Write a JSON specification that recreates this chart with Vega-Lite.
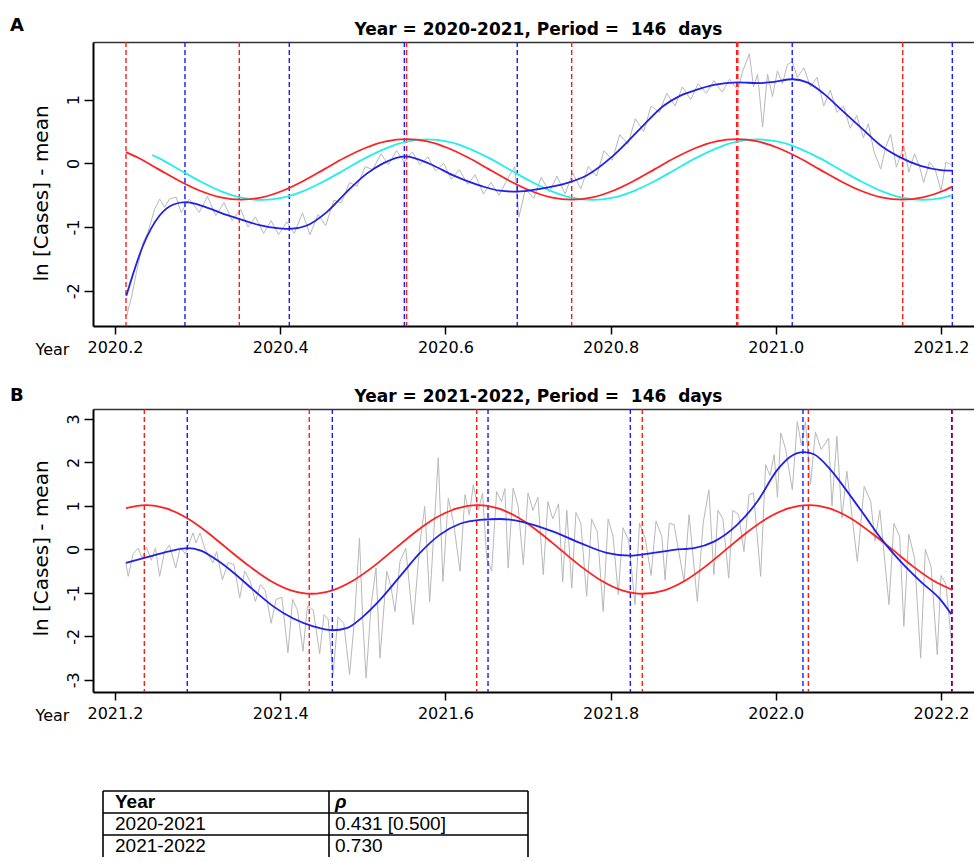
{
  "$schema": "https://vega.github.io/schema/vega-lite/v6.json",
  "background": "white",
  "padding": {"left": 10, "top": 17, "right": 0, "bottom": 0},
  "config": {"font": "DejaVu Sans", "view": {"stroke": null}},
  "spacing": 30,
  "datasets": {
    "grayA": [{"t":2020.214,"v":-2.40},{"t":2020.220,"v":-2.10},{"t":2020.226,"v":-1.71},{"t":2020.234,"v":-1.24},{"t":2020.240,"v":-1.08},{"t":2020.248,"v":-0.72},{"t":2020.254,"v":-0.56},{"t":2020.260,"v":-0.69},{"t":2020.266,"v":-0.56},{"t":2020.274,"v":-0.53},{"t":2020.280,"v":-0.77},{"t":2020.290,"v":-0.56},{"t":2020.302,"v":-0.77},{"t":2020.312,"v":-0.52},{"t":2020.322,"v":-0.82},{"t":2020.332,"v":-0.62},{"t":2020.342,"v":-0.90},{"t":2020.352,"v":-0.72},{"t":2020.361,"v":-1.00},{"t":2020.370,"v":-0.84},{"t":2020.380,"v":-1.10},{"t":2020.389,"v":-0.90},{"t":2020.398,"v":-1.12},{"t":2020.408,"v":-0.92},{"t":2020.417,"v":-1.10},{"t":2020.427,"v":-0.78},{"t":2020.436,"v":-1.12},{"t":2020.446,"v":-0.80},{"t":2020.455,"v":-0.98},{"t":2020.465,"v":-0.58},{"t":2020.474,"v":-0.62},{"t":2020.484,"v":-0.30},{"t":2020.493,"v":-0.36},{"t":2020.503,"v":-0.05},{"t":2020.512,"v":-0.10},{"t":2020.522,"v":0.15},{"t":2020.531,"v":-0.02},{"t":2020.541,"v":0.20},{"t":2020.550,"v":0.02},{"t":2020.560,"v":0.18},{"t":2020.569,"v":-0.02},{"t":2020.579,"v":0.10},{"t":2020.588,"v":-0.12},{"t":2020.598,"v":0.00},{"t":2020.607,"v":-0.25},{"t":2020.617,"v":-0.10},{"t":2020.627,"v":-0.33},{"t":2020.636,"v":-0.18},{"t":2020.646,"v":-0.48},{"t":2020.655,"v":-0.30},{"t":2020.665,"v":-0.50},{"t":2020.675,"v":-0.25},{"t":2020.684,"v":-0.05},{"t":2020.689,"v":-0.84},{"t":2020.697,"v":-0.40},{"t":2020.707,"v":-0.55},{"t":2020.716,"v":-0.22},{"t":2020.726,"v":-0.45},{"t":2020.735,"v":-0.20},{"t":2020.745,"v":-0.48},{"t":2020.754,"v":-0.15},{"t":2020.764,"v":-0.40},{"t":2020.773,"v":-0.05},{"t":2020.783,"v":-0.20},{"t":2020.792,"v":0.20},{"t":2020.802,"v":0.05},{"t":2020.811,"v":0.45},{"t":2020.821,"v":0.30},{"t":2020.830,"v":0.70},{"t":2020.840,"v":0.50},{"t":2020.849,"v":0.90},{"t":2020.859,"v":0.80},{"t":2020.868,"v":1.10},{"t":2020.878,"v":0.90},{"t":2020.887,"v":1.20},{"t":2020.897,"v":1.00},{"t":2020.906,"v":1.25},{"t":2020.916,"v":1.10},{"t":2020.925,"v":1.30},{"t":2020.935,"v":1.12},{"t":2020.944,"v":1.32},{"t":2020.954,"v":1.15},{"t":2020.960,"v":1.45},{"t":2020.968,"v":1.72},{"t":2020.973,"v":1.20},{"t":2020.978,"v":1.40},{"t":2020.984,"v":0.57},{"t":2020.990,"v":1.40},{"t":2020.996,"v":1.05},{"t":2021.002,"v":1.45},{"t":2021.008,"v":1.25},{"t":2021.014,"v":1.55},{"t":2021.020,"v":1.60},{"t":2021.026,"v":1.35},{"t":2021.034,"v":1.50},{"t":2021.042,"v":1.20},{"t":2021.050,"v":1.35},{"t":2021.058,"v":0.90},{"t":2021.066,"v":1.15},{"t":2021.074,"v":0.80},{"t":2021.082,"v":0.90},{"t":2021.090,"v":0.55},{"t":2021.098,"v":0.75},{"t":2021.106,"v":0.40},{"t":2021.112,"v":0.62},{"t":2021.119,"v":0.18},{"t":2021.127,"v":-0.09},{"t":2021.133,"v":0.25},{"t":2021.139,"v":0.46},{"t":2021.146,"v":-0.06},{"t":2021.155,"v":0.28},{"t":2021.161,"v":-0.14},{"t":2021.168,"v":0.15},{"t":2021.174,"v":-0.05},{"t":2021.179,"v":-0.30},{"t":2021.186,"v":0.02},{"t":2021.193,"v":-0.10},{"t":2021.200,"v":-0.43},{"t":2021.206,"v":0.02},{"t":2021.212,"v":-0.02}],
    "blueA": [{"t":2020.2137,"v":-2.08},{"t":2020.234,"v":-1.29},{"t":2020.254,"v":-0.82},{"t":2020.270,"v":-0.65},{"t":2020.2856,"v":-0.61},{"t":2020.3105,"v":-0.69},{"t":2020.335,"v":-0.81},{"t":2020.351,"v":-0.875},{"t":2020.375,"v":-0.97},{"t":2020.399,"v":-1.02},{"t":2020.4115,"v":-1.03},{"t":2020.4316,"v":-0.98},{"t":2020.456,"v":-0.77},{"t":2020.480,"v":-0.455},{"t":2020.504,"v":-0.17},{"t":2020.5245,"v":0.0},{"t":2020.551,"v":0.11},{"t":2020.5814,"v":-0.01},{"t":2020.6096,"v":-0.19},{"t":2020.642,"v":-0.35},{"t":2020.666,"v":-0.43},{"t":2020.6863,"v":-0.445},{"t":2020.7145,"v":-0.40},{"t":2020.7468,"v":-0.31},{"t":2020.771,"v":-0.19},{"t":2020.8033,"v":0.12},{"t":2020.8356,"v":0.54},{"t":2020.8638,"v":0.90},{"t":2020.884,"v":1.06},{"t":2020.901,"v":1.14},{"t":2020.925,"v":1.23},{"t":2020.9534,"v":1.27},{"t":2020.9817,"v":1.26},{"t":2020.998,"v":1.28},{"t":2021.020,"v":1.32},{"t":2021.038,"v":1.27},{"t":2021.0584,"v":1.09},{"t":2021.0785,"v":0.85},{"t":2021.1028,"v":0.565},{"t":2021.127,"v":0.28},{"t":2021.1512,"v":0.09},{"t":2021.1754,"v":-0.04},{"t":2021.1996,"v":-0.105},{"t":2021.2137,"v":-0.115}],
    "redA": [{"t":2020.2133,"v":0.177},{"t":2020.228,"v":0.087},{"t":2020.253,"v":-0.095},{"t":2020.278,"v":-0.277},{"t":2020.303,"v":-0.431},{"t":2020.328,"v":-0.534},{"t":2020.353,"v":-0.570},{"t":2020.378,"v":-0.534},{"t":2020.403,"v":-0.431},{"t":2020.428,"v":-0.277},{"t":2020.453,"v":-0.095},{"t":2020.478,"v":0.087},{"t":2020.503,"v":0.241},{"t":2020.528,"v":0.344},{"t":2020.553,"v":0.380},{"t":2020.578,"v":0.344},{"t":2020.603,"v":0.241},{"t":2020.628,"v":0.087},{"t":2020.653,"v":-0.095},{"t":2020.678,"v":-0.277},{"t":2020.703,"v":-0.431},{"t":2020.728,"v":-0.534},{"t":2020.753,"v":-0.570},{"t":2020.778,"v":-0.534},{"t":2020.803,"v":-0.431},{"t":2020.828,"v":-0.277},{"t":2020.853,"v":-0.095},{"t":2020.878,"v":0.087},{"t":2020.903,"v":0.241},{"t":2020.928,"v":0.344},{"t":2020.953,"v":0.380},{"t":2020.978,"v":0.344},{"t":2021.003,"v":0.241},{"t":2021.028,"v":0.087},{"t":2021.053,"v":-0.095},{"t":2021.078,"v":-0.277},{"t":2021.103,"v":-0.431},{"t":2021.128,"v":-0.534},{"t":2021.153,"v":-0.570},{"t":2021.178,"v":-0.534},{"t":2021.203,"v":-0.431},{"t":2021.2137,"v":-0.365}],
    "cyanA": [{"t":2020.245,"v":0.131},{"t":2020.253,"v":0.082},{"t":2020.278,"v":-0.1},{"t":2020.303,"v":-0.282},{"t":2020.328,"v":-0.436},{"t":2020.353,"v":-0.539},{"t":2020.378,"v":-0.575},{"t":2020.403,"v":-0.539},{"t":2020.428,"v":-0.436},{"t":2020.453,"v":-0.282},{"t":2020.478,"v":-0.1},{"t":2020.503,"v":0.082},{"t":2020.528,"v":0.236},{"t":2020.553,"v":0.339},{"t":2020.578,"v":0.375},{"t":2020.603,"v":0.339},{"t":2020.628,"v":0.236},{"t":2020.653,"v":0.082},{"t":2020.678,"v":-0.1},{"t":2020.703,"v":-0.282},{"t":2020.728,"v":-0.436},{"t":2020.753,"v":-0.539},{"t":2020.778,"v":-0.575},{"t":2020.803,"v":-0.539},{"t":2020.828,"v":-0.436},{"t":2020.853,"v":-0.282},{"t":2020.878,"v":-0.1},{"t":2020.903,"v":0.082},{"t":2020.928,"v":0.236},{"t":2020.953,"v":0.339},{"t":2020.978,"v":0.375},{"t":2021.003,"v":0.339},{"t":2021.028,"v":0.236},{"t":2021.053,"v":0.082},{"t":2021.078,"v":-0.1},{"t":2021.103,"v":-0.282},{"t":2021.128,"v":-0.436},{"t":2021.153,"v":-0.539},{"t":2021.178,"v":-0.575},{"t":2021.203,"v":-0.539},{"t":2021.2137,"v":-0.50}],
    "rulesA": [{"t":2020.2133,"c":"red"},{"t":2020.3505,"c":"red"},{"t":2020.553,"c":"red"},{"t":2020.7529,"c":"red"},{"t":2020.9526,"c":"red"},{"t":2020.9540,"c":"red"},{"t":2021.1536,"c":"red"},{"t":2020.2847,"c":"blue"},{"t":2020.411,"c":"blue"},{"t":2020.5503,"c":"blue"},{"t":2020.687,"c":"blue"},{"t":2021.0199,"c":"blue"},{"t":2021.2137,"c":"blue"}],
    "grayB": [{"t":2021.213,"v":-0.30},{"t":2021.216,"v":-0.62},{"t":2021.222,"v":-0.10},{"t":2021.228,"v":0.03},{"t":2021.233,"v":-0.20},{"t":2021.238,"v":0.05},{"t":2021.244,"v":-0.25},{"t":2021.249,"v":0.03},{"t":2021.254,"v":-0.62},{"t":2021.260,"v":-0.05},{"t":2021.266,"v":0.10},{"t":2021.2735,"v":-0.43},{"t":2021.279,"v":0.05},{"t":2021.285,"v":-0.10},{"t":2021.2944,"v":0.38},{"t":2021.298,"v":0.15},{"t":2021.303,"v":0.38},{"t":2021.309,"v":0.00},{"t":2021.3187,"v":-0.31},{"t":2021.323,"v":-0.05},{"t":2021.330,"v":-0.70},{"t":2021.337,"v":-0.30},{"t":2021.344,"v":-0.35},{"t":2021.351,"v":-1.12},{"t":2021.357,"v":-0.50},{"t":2021.364,"v":-0.75},{"t":2021.370,"v":-1.20},{"t":2021.376,"v":-0.81},{"t":2021.382,"v":-0.95},{"t":2021.389,"v":-1.70},{"t":2021.395,"v":-1.15},{"t":2021.402,"v":-1.10},{"t":2021.4094,"v":-2.38},{"t":2021.415,"v":-1.15},{"t":2021.421,"v":-1.40},{"t":2021.4276,"v":-2.34},{"t":2021.433,"v":-1.30},{"t":2021.440,"v":-1.40},{"t":2021.4478,"v":-2.40},{"t":2021.453,"v":-1.50},{"t":2021.458,"v":-1.60},{"t":2021.464,"v":-2.88},{"t":2021.470,"v":-1.55},{"t":2021.477,"v":-1.70},{"t":2021.484,"v":-2.88},{"t":2021.490,"v":-1.60},{"t":2021.496,"v":0.26},{"t":2021.500,"v":-1.65},{"t":2021.504,"v":-2.96},{"t":2021.510,"v":-1.30},{"t":2021.516,"v":-0.43},{"t":2021.5208,"v":-2.50},{"t":2021.529,"v":-0.50},{"t":2021.534,"v":-0.85},{"t":2021.539,"v":-1.43},{"t":2021.545,"v":-0.28},{"t":2021.552,"v":0.03},{"t":2021.561,"v":-1.73},{"t":2021.569,"v":0.11},{"t":2021.575,"v":0.99},{"t":2021.581,"v":-1.20},{"t":2021.5914,"v":2.11},{"t":2021.597,"v":-0.74},{"t":2021.6035,"v":1.18},{"t":2021.610,"v":0.60},{"t":2021.6177,"v":-0.50},{"t":2021.6237,"v":1.26},{"t":2021.629,"v":0.80},{"t":2021.6338,"v":1.49},{"t":2021.640,"v":0.90},{"t":2021.645,"v":1.30},{"t":2021.650,"v":-0.20},{"t":2021.656,"v":-0.50},{"t":2021.662,"v":1.33},{"t":2021.668,"v":1.10},{"t":2021.672,"v":1.40},{"t":2021.676,"v":-0.43},{"t":2021.682,"v":1.41},{"t":2021.688,"v":1.00},{"t":2021.6943,"v":-0.35},{"t":2021.700,"v":1.30},{"t":2021.706,"v":0.90},{"t":2021.712,"v":1.20},{"t":2021.7185,"v":-0.58},{"t":2021.724,"v":1.10},{"t":2021.730,"v":0.70},{"t":2021.737,"v":1.05},{"t":2021.742,"v":-0.75},{"t":2021.747,"v":0.90},{"t":2021.753,"v":-0.89},{"t":2021.758,"v":0.85},{"t":2021.764,"v":0.60},{"t":2021.771,"v":-1.08},{"t":2021.777,"v":0.70},{"t":2021.784,"v":0.40},{"t":2021.791,"v":-1.43},{"t":2021.797,"v":0.70},{"t":2021.803,"v":0.30},{"t":2021.8093,"v":-1.04},{"t":2021.815,"v":0.50},{"t":2021.822,"v":0.20},{"t":2021.8295,"v":-1.27},{"t":2021.835,"v":0.60},{"t":2021.842,"v":0.25},{"t":2021.849,"v":-0.60},{"t":2021.855,"v":0.65},{"t":2021.862,"v":0.30},{"t":2021.866,"v":-0.70},{"t":2021.871,"v":0.60},{"t":2021.8768,"v":0.57},{"t":2021.8889,"v":-0.74},{"t":2021.895,"v":0.80},{"t":2021.905,"v":-1.20},{"t":2021.912,"v":0.60},{"t":2021.919,"v":1.37},{"t":2021.925,"v":-0.58},{"t":2021.930,"v":0.90},{"t":2021.936,"v":0.70},{"t":2021.943,"v":-0.66},{"t":2021.948,"v":0.90},{"t":2021.955,"v":0.80},{"t":2021.9615,"v":-0.05},{"t":2021.9676,"v":1.26},{"t":2021.973,"v":1.30},{"t":2021.9817,"v":-0.62},{"t":2021.9877,"v":1.95},{"t":2021.993,"v":1.70},{"t":2021.998,"v":2.18},{"t":2022.002,"v":1.20},{"t":2022.006,"v":2.68},{"t":2022.012,"v":2.30},{"t":2022.020,"v":1.37},{"t":2022.026,"v":2.94},{"t":2022.031,"v":2.40},{"t":2022.036,"v":2.94},{"t":2022.042,"v":1.50},{"t":2022.048,"v":2.70},{"t":2022.055,"v":2.30},{"t":2022.064,"v":2.56},{"t":2022.068,"v":1.00},{"t":2022.074,"v":2.60},{"t":2022.080,"v":0.72},{"t":2022.086,"v":1.80},{"t":2022.0987,"v":-0.28},{"t":2022.107,"v":1.45},{"t":2022.115,"v":1.10},{"t":2022.120,"v":0.20},{"t":2022.126,"v":0.90},{"t":2022.137,"v":-1.27},{"t":2022.143,"v":0.60},{"t":2022.150,"v":0.30},{"t":2022.155,"v":-1.77},{"t":2022.161,"v":0.35},{"t":2022.168,"v":-0.20},{"t":2022.1754,"v":-2.50},{"t":2022.181,"v":0.00},{"t":2022.188,"v":-0.40},{"t":2022.1955,"v":-2.42},{"t":2022.200,"v":-0.60},{"t":2022.206,"v":-0.80},{"t":2022.2125,"v":-2.11}],
    "blueB": [{"t":2021.2133,"v":-0.31},{"t":2021.2424,"v":-0.16},{"t":2021.2706,"v":-0.02},{"t":2021.2875,"v":0.03},{"t":2021.303,"v":-0.02},{"t":2021.323,"v":-0.24},{"t":2021.3432,"v":-0.53},{"t":2021.3674,"v":-0.93},{"t":2021.3916,"v":-1.31},{"t":2021.4159,"v":-1.59},{"t":2021.44,"v":-1.77},{"t":2021.4631,"v":-1.86},{"t":2021.4805,"v":-1.81},{"t":2021.5006,"v":-1.54},{"t":2021.5208,"v":-1.16},{"t":2021.545,"v":-0.62},{"t":2021.5692,"v":-0.08},{"t":2021.5935,"v":0.34},{"t":2021.6177,"v":0.59},{"t":2021.6419,"v":0.68},{"t":2021.666,"v":0.70},{"t":2021.6943,"v":0.63},{"t":2021.7306,"v":0.41},{"t":2021.763,"v":0.15},{"t":2021.7953,"v":-0.08},{"t":2021.8235,"v":-0.145},{"t":2021.8517,"v":-0.08},{"t":2021.8768,"v":-0.01},{"t":2021.901,"v":0.03},{"t":2021.9252,"v":0.18},{"t":2021.9534,"v":0.57},{"t":2021.9776,"v":1.10},{"t":2022.0018,"v":1.83},{"t":2022.018,"v":2.14},{"t":2022.0341,"v":2.24},{"t":2022.0462,"v":2.19},{"t":2022.0664,"v":1.83},{"t":2022.0866,"v":1.33},{"t":2022.1068,"v":0.80},{"t":2022.127,"v":0.26},{"t":2022.1512,"v":-0.28},{"t":2022.1754,"v":-0.74},{"t":2022.1996,"v":-1.16},{"t":2022.2125,"v":-1.49}],
    "redB": [{"t":2021.2133,"v":0.95},{"t":2021.237,"v":1.02},{"t":2021.262,"v":0.942},{"t":2021.287,"v":0.721},{"t":2021.312,"v":0.390},{"t":2021.337,"v":0.0},{"t":2021.363,"v":-0.390},{"t":2021.388,"v":-0.721},{"t":2021.413,"v":-0.942},{"t":2021.438,"v":-1.02},{"t":2021.463,"v":-0.942},{"t":2021.488,"v":-0.721},{"t":2021.513,"v":-0.390},{"t":2021.538,"v":0.0},{"t":2021.563,"v":0.390},{"t":2021.588,"v":0.721},{"t":2021.614,"v":0.942},{"t":2021.639,"v":1.02},{"t":2021.664,"v":0.942},{"t":2021.689,"v":0.721},{"t":2021.714,"v":0.390},{"t":2021.739,"v":0.0},{"t":2021.764,"v":-0.390},{"t":2021.789,"v":-0.721},{"t":2021.814,"v":-0.942},{"t":2021.839,"v":-1.02},{"t":2021.865,"v":-0.942},{"t":2021.890,"v":-0.721},{"t":2021.915,"v":-0.390},{"t":2021.940,"v":0.0},{"t":2021.965,"v":0.390},{"t":2021.990,"v":0.721},{"t":2022.015,"v":0.942},{"t":2022.040,"v":1.02},{"t":2022.065,"v":0.942},{"t":2022.090,"v":0.721},{"t":2022.115,"v":0.390},{"t":2022.141,"v":0.0},{"t":2022.166,"v":-0.390},{"t":2022.191,"v":-0.721},{"t":2022.2137,"v":-0.93}],
    "rulesB": [{"t":2021.2355,"c":"red"},{"t":2021.4352,"c":"red"},{"t":2021.6379,"c":"red"},{"t":2021.8384,"c":"red"},{"t":2022.0394,"c":"red"},{"t":2022.2137,"c":"red"},{"t":2021.2875,"c":"blue"},{"t":2021.4631,"c":"blue"},{"t":2021.6516,"c":"blue"},{"t":2021.8239,"c":"blue"},{"t":2022.0329,"c":"blue"},{"t":2022.2129,"c":"blue"}],
    "table": [{"row":0,"col":0,"text":"Year"},{"row":0,"col":1,"text":"ρ"},{"row":1,"col":0,"text":"2020-2021"},{"row":1,"col":1,"text":"0.431 [0.500]"},{"row":2,"col":0,"text":"2021-2022"},{"row":2,"col":1,"text":"0.730"}],
    "tableGrid": [{"c1":0,"c2":2,"r1":0,"r2":0},{"c1":0,"c2":2,"r1":1,"r2":1},{"c1":0,"c2":2,"r1":2,"r2":2},{"c1":0,"c2":0,"r1":0,"r2":3},{"c1":1,"c2":1,"r1":0,"r2":3},{"c1":2,"c2":2,"r1":0,"r2":3}]
  },
  "vconcat": [
    {
      "title": {"text": "A", "anchor": "start", "frame": "group", "dx": -83, "dy": 17, "fontSize": 18, "fontWeight": "bold", "font": "DejaVu Sans", "color": "black", "offset": 2},
      "width": 881, "height": 284,
      "resolve": {"axis": {"x": "independent", "y": "independent"}},
      "layer": [
        {"data": {"name": "grayA"}, "mark": {"type": "line", "color": "#b8b8b8", "strokeWidth": 1},
         "encoding": {
           "x": {"field": "t", "type": "quantitative", "scale": {"domain": [2020.17337, 2021.23995], "nice": false, "zero": false},
                 "axis": {"orient": "bottom", "values": [2020.2, 2020.4, 2020.6, 2020.8, 2021.0, 2021.2], "format": ".1f", "labelFont": "DejaVu Sans", "labelFontSize": 16, "labelColor": "black", "labelFlush": false, "labelOverlap": false, "tickColor": "black", "tickSize": 8, "tickWidth": 1.5, "labelPadding": 5, "domainColor": "black", "domainWidth": 2, "grid": false, "title": "Year", "titleFont": "DejaVu Sans", "titleFontSize": 16, "titleFontWeight": "normal", "titleColor": "black", "titleX": -41, "titleY": 23, "titleBaseline": "middle", "titleAlign": "center", "titleAnchor": null}},
           "y": {"field": "v", "type": "quantitative", "scale": {"domain": [-2.554, 1.905], "nice": false, "zero": false},
                 "axis": {"orient": "left", "values": [-2, -1, 0, 1], "labelExpr": "replace(datum.label, '−', '-')", "labelAngle": -90, "labelFont": "DejaVu Sans", "labelFontSize": 16, "labelColor": "black", "labelFlush": false, "labelOverlap": false, "tickColor": "black", "tickSize": 9, "tickWidth": 1.5, "labelPadding": 3, "domainColor": "black", "domainWidth": 2, "grid": false, "title": "ln [Cases] - mean", "titleFont": "DejaVu Sans", "titleFontSize": 20, "titleFontWeight": "normal", "titleColor": "black", "titleAngle": -90, "titleX": -52, "titleY": 151, "titleAlign": "center", "titleBaseline": "middle", "titleAnchor": null}}
         }},
        {"data": {"name": "rulesA"}, "mark": {"type": "rule", "strokeDash": [5, 3], "strokeWidth": 1.4},
         "encoding": {
           "x": {"field": "t", "type": "quantitative", "scale": {"domain": [2020.17337, 2021.23995], "nice": false, "zero": false},
                 "axis": {"orient": "top", "domain": true, "domainColor": "#333333", "domainWidth": 1.5, "ticks": false, "labels": false, "grid": false, "title": "Year = 2020-2021, Period = \u00a0146 \u00a0days", "titleFont": "DejaVu Sans", "titleFontSize": 17, "titleFontWeight": "bold", "titleColor": "black", "titleX": 445, "titleY": -8, "titleAlign": "center", "titleBaseline": "alphabetic", "titleAnchor": null}},
           "color": {"field": "c", "type": "nominal", "scale": {"domain": ["red", "blue"], "range": ["#ff1a1a", "#1a1aff"]}, "legend": null}
         }},
        {"data": {"name": "cyanA"}, "mark": {"type": "line", "color": "#22eeee", "strokeWidth": 1.8, "interpolate": "monotone"},
         "encoding": {
           "x": {"field": "t", "type": "quantitative", "scale": {"domain": [2020.17337, 2021.23995], "nice": false, "zero": false}, "axis": null},
           "y": {"field": "v", "type": "quantitative", "scale": {"domain": [-2.554, 1.905], "nice": false, "zero": false}, "axis": null}
         }},
        {"data": {"name": "redA"}, "mark": {"type": "line", "color": "#ff2020", "strokeWidth": 1.8, "interpolate": "monotone"},
         "encoding": {
           "x": {"field": "t", "type": "quantitative", "scale": {"domain": [2020.17337, 2021.23995], "nice": false, "zero": false}, "axis": null},
           "y": {"field": "v", "type": "quantitative", "scale": {"domain": [-2.554, 1.905], "nice": false, "zero": false}, "axis": null}
         }},
        {"data": {"name": "blueA"}, "mark": {"type": "line", "color": "#2020e6", "strokeWidth": 1.8, "interpolate": "monotone"},
         "encoding": {
           "x": {"field": "t", "type": "quantitative", "scale": {"domain": [2020.17337, 2021.23995], "nice": false, "zero": false}, "axis": null},
           "y": {"field": "v", "type": "quantitative", "scale": {"domain": [-2.554, 1.905], "nice": false, "zero": false}, "axis": null}
         }}
      ]
    },
    {
      "title": {"text": "B", "anchor": "start", "frame": "group", "dx": -83, "dy": 20, "fontSize": 18, "fontWeight": "bold", "font": "DejaVu Sans", "color": "black", "offset": 2},
      "width": 881, "height": 283,
      "resolve": {"axis": {"x": "independent", "y": "independent"}},
      "layer": [
        {"data": {"name": "grayB"}, "mark": {"type": "line", "color": "#b8b8b8", "strokeWidth": 1},
         "encoding": {
           "x": {"field": "t", "type": "quantitative", "scale": {"domain": [2021.17337, 2022.23995], "nice": false, "zero": false},
                 "axis": {"orient": "bottom", "values": [2021.2, 2021.4, 2021.6, 2021.8, 2022.0, 2022.2], "format": ".1f", "labelFont": "DejaVu Sans", "labelFontSize": 16, "labelColor": "black", "labelFlush": false, "labelOverlap": false, "tickColor": "black", "tickSize": 8, "tickWidth": 1.5, "labelPadding": 5, "domainColor": "black", "domainWidth": 2, "grid": false, "title": "Year", "titleFont": "DejaVu Sans", "titleFontSize": 16, "titleFontWeight": "normal", "titleColor": "black", "titleX": -41, "titleY": 23, "titleBaseline": "middle", "titleAlign": "center", "titleAnchor": null}},
           "y": {"field": "v", "type": "quantitative", "scale": {"domain": [-3.28, 3.23], "nice": false, "zero": false},
                 "axis": {"orient": "left", "values": [-3, -2, -1, 0, 1, 2, 3], "labelExpr": "replace(datum.label, '−', '-')", "labelAngle": -90, "labelFont": "DejaVu Sans", "labelFontSize": 16, "labelColor": "black", "labelFlush": false, "labelOverlap": false, "tickColor": "black", "tickSize": 9, "tickWidth": 1.5, "labelPadding": 3, "domainColor": "black", "domainWidth": 2, "grid": false, "title": "ln [Cases] - mean", "titleFont": "DejaVu Sans", "titleFontSize": 20, "titleFontWeight": "normal", "titleColor": "black", "titleAngle": -90, "titleX": -52, "titleY": 139, "titleAlign": "center", "titleBaseline": "middle", "titleAnchor": null}}
         }},
        {"data": {"name": "rulesB"}, "mark": {"type": "rule", "strokeDash": [5, 3], "strokeWidth": 1.4},
         "encoding": {
           "x": {"field": "t", "type": "quantitative", "scale": {"domain": [2021.17337, 2022.23995], "nice": false, "zero": false},
                 "axis": {"orient": "top", "domain": true, "domainColor": "#333333", "domainWidth": 1.5, "ticks": false, "labels": false, "grid": false, "title": "Year = 2021-2022, Period = \u00a0146 \u00a0days", "titleFont": "DejaVu Sans", "titleFontSize": 17, "titleFontWeight": "bold", "titleColor": "black", "titleX": 445, "titleY": -8, "titleAlign": "center", "titleBaseline": "alphabetic", "titleAnchor": null}},
           "color": {"field": "c", "type": "nominal", "scale": {"domain": ["red", "blue"], "range": ["#ff1a1a", "#1a1aff"]}, "legend": null}
         }},
        {"data": {"name": "redB"}, "mark": {"type": "line", "color": "#ff2020", "strokeWidth": 1.8, "interpolate": "monotone"},
         "encoding": {
           "x": {"field": "t", "type": "quantitative", "scale": {"domain": [2021.17337, 2022.23995], "nice": false, "zero": false}, "axis": null},
           "y": {"field": "v", "type": "quantitative", "scale": {"domain": [-3.28, 3.23], "nice": false, "zero": false}, "axis": null}
         }},
        {"data": {"name": "blueB"}, "mark": {"type": "line", "color": "#2020e6", "strokeWidth": 1.8, "interpolate": "monotone"},
         "encoding": {
           "x": {"field": "t", "type": "quantitative", "scale": {"domain": [2021.17337, 2022.23995], "nice": false, "zero": false}, "axis": null},
           "y": {"field": "v", "type": "quantitative", "scale": {"domain": [-3.28, 3.23], "nice": false, "zero": false}, "axis": null}
         }}
      ]
    },
    {
      "width": 440, "height": 110,
      "layer": [
        {"data": {"name": "tableGrid"}, "mark": {"type": "rule", "color": "black", "strokeWidth": 1.6},
         "encoding": {
           "x": {"field": "c1", "type": "quantitative", "scale": {"domain": [0, 1, 2], "range": [10, 236, 435]}, "axis": null},
           "x2": {"field": "c2"},
           "y": {"field": "r1", "type": "quantitative", "scale": {"domain": [0, 3], "range": [38, 104]}, "axis": null},
           "y2": {"field": "r2"}
         }},
        {"data": {"name": "table"}, "transform": [{"filter": "datum.row == 0 && datum.col == 0"}],
         "mark": {"type": "text", "align": "left", "baseline": "middle", "dx": 12, "dy": 11, "font": "Liberation Sans", "fontSize": 19, "fontWeight": "bold", "color": "black"},
         "encoding": {"x": {"field": "col", "type": "quantitative", "axis": null}, "y": {"field": "row", "type": "quantitative", "axis": null}, "text": {"field": "text"}}},
        {"data": {"name": "table"}, "transform": [{"filter": "datum.row == 0 && datum.col == 1"}],
         "mark": {"type": "text", "align": "left", "baseline": "middle", "dx": 6, "dy": 11, "font": "Liberation Sans", "fontSize": 19, "fontWeight": "bold", "fontStyle": "italic", "color": "black"},
         "encoding": {"x": {"field": "col", "type": "quantitative", "axis": null}, "y": {"field": "row", "type": "quantitative", "axis": null}, "text": {"field": "text"}}},
        {"data": {"name": "table"}, "transform": [{"filter": "datum.row > 0 && datum.col == 0"}],
         "mark": {"type": "text", "align": "left", "baseline": "middle", "dx": 12, "dy": 11, "font": "Liberation Sans", "fontSize": 19, "color": "black"},
         "encoding": {"x": {"field": "col", "type": "quantitative", "axis": null}, "y": {"field": "row", "type": "quantitative", "axis": null}, "text": {"field": "text"}}},
        {"data": {"name": "table"}, "transform": [{"filter": "datum.row > 0 && datum.col == 1"}],
         "mark": {"type": "text", "align": "left", "baseline": "middle", "dx": 6, "dy": 11, "font": "Liberation Sans", "fontSize": 19, "color": "black"},
         "encoding": {"x": {"field": "col", "type": "quantitative", "axis": null}, "y": {"field": "row", "type": "quantitative", "axis": null}, "text": {"field": "text"}}}
      ]
    }
  ]
}
